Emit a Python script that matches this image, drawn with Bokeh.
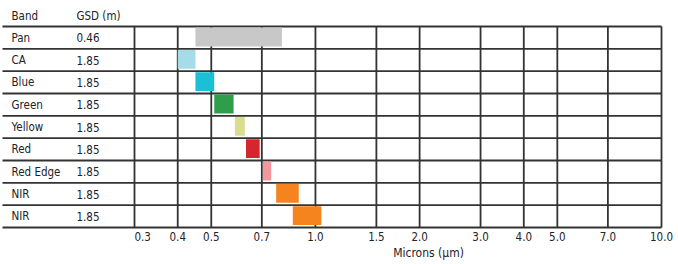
import math
from bokeh.plotting import figure
from bokeh.models import ColumnDataSource, Range1d, LinearScale
from bokeh.core.properties import value
from bokeh.embed import file_html
from bokeh.resources import INLINE

# ---- data ----
bands = ["Pan", "CA", "Blue", "Green", "Yellow", "Red", "Red Edge", "NIR", "NIR"]
gsd = ["0.46", "1.85", "1.85", "1.85", "1.85", "1.85", "1.85", "1.85", "1.85"]
band_start = [0.45, 0.40, 0.45, 0.51, 0.585, 0.63, 0.705, 0.77, 0.86]
band_end = [0.80, 0.45, 0.51, 0.58, 0.625, 0.69, 0.745, 0.895, 1.04]
band_colors = ["#c8c8c8", "#a6dce8", "#1cc0d4", "#2e9e4a", "#dadc8e",
               "#d4262c", "#f4979c", "#f5841f", "#f5841f"]
tick_values = [0.3, 0.4, 0.5, 0.7, 1.0, 1.5, 2.0, 3.0, 4.0, 5.0, 7.0, 10.0]
tick_labels = ["0.3", "0.4", "0.5", "0.7", "1.0", "1.5", "2.0", "3.0",
               "4.0", "5.0", "7.0", "10.0"]
x_title = "Microns (\u00b5m)"
header = ["Band", "GSD (m)"]

# ---- layout geometry (pixels) ----
W, H = 678, 264
LEFT, RIGHT = 134, 661      # pixel positions of 0.3 and 10.0
TOP, BOTTOM = 26, 227       # top and bottom of the rows
XMIN, XMAX = tick_values[0], tick_values[-1]
n = len(bands)
row_h = (BOTTOM - TOP) / n
D = math.log10(XMAX / XMIN)
span = RIGHT - LEFT
x_lo = 10 ** (math.log10(XMIN) - LEFT / span * D)
x_hi = 10 ** (math.log10(XMAX) + (W - RIGHT) / span * D)
y_top = -TOP / row_h
y_bot = (H - TOP) / row_h

FONT = "DejaVu Sans Condensed, Roboto"
TXT = "#222228"
LINE = "#333333"

p = figure(width=W, height=H, output_backend="svg", toolbar_location=None,
           x_axis_type="log", x_range=Range1d(x_lo, x_hi),
           y_range=Range1d(y_bot, y_top),
           x_axis_location=None, y_axis_location=None,
           min_border=0)
p.outline_line_color = None
p.xgrid.visible = False
p.ygrid.visible = False
p.background_fill_color = "white"
p.extra_x_ranges = {"px": Range1d(0, W)}
p.extra_x_scales = {"px": LinearScale()}

# horizontal row lines (table + chart)
rows_y = list(range(n + 1))
p.segment(x0=[2] * len(rows_y), x1=[RIGHT] * len(rows_y), y0=rows_y, y1=rows_y,
          x_range_name="px", line_color=LINE, line_width=1.8)

# vertical grid lines
p.segment(x0=tick_values, x1=tick_values, y0=[0] * len(tick_values),
          y1=[n] * len(tick_values), line_color=LINE, line_width=1.8)

# bars
src = ColumnDataSource(dict(
    left=band_start, right=band_end,
    y=[i + 0.47 for i in range(n)], color=band_colors))
p.hbar(y="y", left="left", right="right", height=0.84, fill_color="color",
       line_color=None, source=src)

# table texts
FS = "11.5px"
p.text(x=[11, 76], y=[-0.45, -0.45], text=header, x_range_name="px",
       text_font=value(FONT), text_font_size=FS, text_color=TXT,
       text_baseline="middle")
ys = [i + 0.5 for i in range(n)]
p.text(x=[11] * n, y=ys, text=bands, x_range_name="px",
       text_font=value(FONT), text_font_size=FS, text_color=TXT,
       text_baseline="middle")
p.text(x=[76] * n, y=ys, text=gsd, x_range_name="px",
       text_font=value(FONT), text_font_size=FS, text_color=TXT,
       text_baseline="middle")

# tick labels
aligns = ["left"] + ["center"] * (len(tick_values) - 1)
tsrc = ColumnDataSource(dict(x=tick_values, y=[n + 0.42] * len(tick_values),
                             text=tick_labels, align=aligns))
p.text(x="x", y="y", text="text", text_align="align", source=tsrc,
       text_font=value(FONT), text_font_size=FS, text_color=TXT,
       text_baseline="middle")

# axis title
p.text(x=[428], y=[n + 1.13], text=[x_title], x_range_name="px",
       text_font=value(FONT), text_font_size="12px", text_color=TXT,
       text_baseline="middle", text_align="center")

open("out.html", "w").write(file_html(p, INLINE))
